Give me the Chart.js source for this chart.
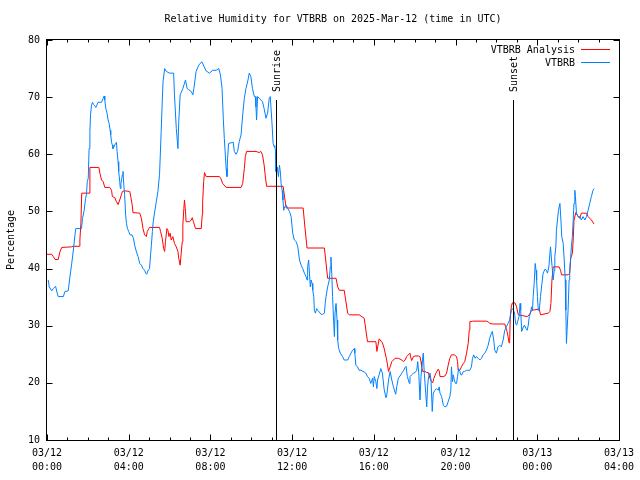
<!DOCTYPE html>
<html>
<head>
<meta charset="utf-8">
<script src="https://cdn.jsdelivr.net/npm/chart.js@4.4.1/dist/chart.umd.min.js"></script>
<style>
    html, body { margin: 0; padding: 0; background: #fff; }
    canvas { display: block; }
</style>
</head>
<body>
<canvas id="graficoUmidade" width="640" height="480"></canvas>
<script>
// Observações VTBRB (horas desde 03/12 00:00 UTC, umidade relativa %)
const obsHours = [
    0.06,0.11,0.23,0.31,0.42,0.50,0.55,0.80,0.88,1.04,
    1.12,1.20,1.28,1.37,1.41,1.69,1.74,1.82,1.89,1.93,
    1.97,2.02,2.06,2.10,2.13,2.18,2.23,2.28,2.34,2.39,
    2.44,2.50,2.67,2.75,2.80,2.83,2.88,2.94,2.99,3.04,
    3.09,3.12,3.16,3.20,3.23,3.28,3.35,3.40,3.43,3.48,
    3.51,3.56,3.59,3.62,3.66,3.69,3.72,3.76,3.80,3.85,
    3.89,3.94,4.00,4.07,4.16,4.23,4.29,4.38,4.46,4.54,
    4.62,4.70,4.78,4.83,4.88,4.94,5.02,5.07,5.11,5.16,
    5.20,5.27,5.35,5.43,5.51,5.59,5.64,5.68,5.76,5.84,
    6.00,6.20,6.24,6.33,6.41,6.45,6.52,6.65,6.78,6.86,
    6.94,7.06,7.14,7.19,7.30,7.43,7.58,7.79,7.95,8.11,
    8.28,8.41,8.49,8.57,8.63,8.68,8.73,8.77,8.81,8.84,
    8.89,9.12,9.17,9.25,9.33,9.41,9.50,9.58,9.66,9.74,
    9.84,9.90,9.98,10.06,10.15,10.20,10.23,10.26,10.31,10.39,
    10.55,10.63,10.72,10.80,10.88,10.93,11.01,11.07,11.12,11.15,
    11.19,11.21,11.27,11.33,11.38,11.43,11.46,11.51,11.55,11.59,
    11.63,11.71,11.79,11.87,11.95,12.03,12.11,12.20,12.28,12.36,
    12.44,12.52,12.60,12.68,12.73,12.76,12.81,12.85,12.89,12.93,
    12.98,13.01,13.06,13.09,13.14,13.20,13.25,13.33,13.41,13.50,
    13.58,13.62,13.66,13.74,13.82,13.87,13.90,13.94,13.98,14.03,
    14.07,14.10,14.15,14.20,14.23,14.28,14.36,14.47,14.55,14.72,
    14.80,14.88,14.96,15.04,15.07,15.12,15.20,15.28,15.37,15.53,
    15.61,15.69,15.77,15.85,15.94,15.98,16.02,16.10,16.15,16.18,
    16.26,16.34,16.42,16.50,16.59,16.63,16.72,16.80,16.88,16.96,
    17.07,17.12,17.20,17.28,17.37,17.45,17.53,17.58,17.64,17.69,
    17.74,17.77,17.85,17.94,18.02,18.10,18.15,18.20,18.26,18.31,
    18.37,18.42,18.47,18.54,18.59,18.63,18.68,18.75,18.80,18.86,
    18.91,18.99,19.07,19.15,19.20,19.24,19.32,19.40,19.48,19.56,
    19.64,19.72,19.77,19.80,19.85,19.89,19.94,20.00,20.05,20.10,
    20.15,20.21,20.26,20.31,20.38,20.45,20.54,20.70,20.78,20.83,
    20.89,20.96,21.02,21.11,21.19,21.27,21.35,21.43,21.51,21.60,
    21.67,21.76,21.80,21.87,21.92,22.00,22.08,22.16,22.24,22.33,
    22.41,22.49,22.57,22.65,22.73,22.81,22.89,22.94,22.99,23.04,
    23.11,23.16,23.19,23.24,23.32,23.37,23.45,23.51,23.56,23.61,
    23.67,23.72,23.77,23.80,23.85,23.90,23.94,23.97,24.01,24.05,
    24.10,24.16,24.23,24.29,24.38,24.45,24.50,24.57,24.62,24.65,
    24.70,24.73,24.78,24.83,24.86,24.91,24.94,24.99,25.04,25.11,
    25.16,25.20,25.27,25.32,25.37,25.40,25.43,25.46,25.51,25.56,
    25.59,25.64,25.67,25.72,25.76,25.80,25.84,25.87,25.92,26.00,
    26.08,26.16,26.24,26.33,26.41,26.49,26.57,26.65,26.73,26.78
];
const obsRH = [
    38,36.8,36.1,36.5,36.9,35.7,35.1,35.1,36,36.1,
    38.5,40.6,42.9,45.9,47,47,48.8,50.2,52.3,52.9,
    55.2,55.8,61,64,66.9,68.6,69.1,68.7,68.5,68.2,
    68.6,69.1,69.1,69.8,70.2,69.5,68,67.2,66,65.4,
    64.2,63.4,62.1,61.6,61,61.3,61.9,62.1,60.5,58.7,
    57,55.2,54,54.9,55.8,56.4,57,54.6,52.9,49.4,
    47.9,47,46.5,45.9,45.9,45.3,44.1,42.9,42.1,40.9,
    40.6,40,39.7,39.2,39,39.6,40,42.4,44.1,46.5,
    48.2,49.9,51.7,53.5,56.5,64,69,72.7,75,74.5,
    74.2,74.2,70.4,64.5,61,65.7,70.4,71.5,73,71.5,
    71.3,71,70.4,71.5,74.5,75.6,76.2,74.6,74.2,74.7,
    74.7,75,73.9,71.5,66.3,62.8,59.9,57.5,56.1,59.3,
    61.9,62.1,60.5,60,60.5,62.2,63.4,66.9,69.8,71.5,
    73,74.2,73.6,71.5,70.1,70.1,68.3,66,70.1,69.8,
    69.2,68,66.3,67.2,69.8,70.1,65.7,61.9,61.3,61.5,
    60.5,57,57.8,56.1,58.1,56.7,54.9,53.7,52,50.2,
    50.8,51.1,50.5,50,49.1,46.2,45,44.7,43.8,41.5,
    40.6,40,39.2,38.6,38,40.3,41.5,39.2,36.8,38,
    37.4,36.2,35.1,32.7,32.2,33,32.7,32.4,32,32,
    32.2,33.9,35.1,36.8,38,40.3,42,39.2,35.1,31,
    28.1,32.2,33.9,31,27.5,26,25.2,24.6,24,24,
    24.6,25.2,25.7,26,25.2,23.1,22.8,22.2,22.2,21.9,
    21.7,21.1,20.8,19.9,20.8,19.3,21.1,20.2,19,20.5,
    21.4,22.5,21.7,19,17.4,17.7,20.5,22,20.5,19.3,
    18,19.3,20.8,21.2,21.7,22.1,22.7,22.9,21.1,20.5,
    19.9,21.1,21.4,21.7,21.8,22.2,23.7,21.7,17,21.1,
    23.5,25.2,21.7,18.2,15.8,19.3,21.1,21.7,20.5,15,
    18.2,18.7,19,18.7,19.3,18.2,17.6,16.1,15.8,15.9,
    16.7,17.6,18.7,22.8,20.2,21.4,20.5,19.9,19.9,21.1,
    22.5,22,21.4,21.4,22,22,22.2,22.2,22.8,24.3,
    24.9,24.3,24.6,24.3,24,24.3,24.9,25.2,25.7,26.6,
    27.8,28.7,29,27.5,25.7,25.2,26.3,26.6,26.3,27.5,
    29.2,29.8,30.4,31,32.7,33,32.2,30.4,30.1,30.7,
    31.6,33.9,32.7,29,29.8,30.1,29.5,29.2,30.1,31.6,
    32.2,33.3,32.7,35.1,37.4,40.9,39.7,38,35.1,32.7,
    32.7,35.1,37.4,39.2,39.9,39.7,39.2,40.3,42.7,43.8,
    41.5,40.3,38,39.7,42.1,43.8,46.7,48.5,50.2,51.4,
    48.5,45.6,44.4,41.5,38,32.7,26.9,29.2,32.7,38,
    39.7,42.1,43.8,45.6,48.5,51.4,53.7,52.6,49.7,49.1,
    49.1,48.5,49.1,48.5,49.1,50.2,51.4,52.6,53.7,54
];

// Análise VTBRB
const anaHours = [
    0,0.23,0.31,0.39,0.55,0.63,0.72,1.20,1.28,1.58,
    1.61,1.66,1.70,2.06,2.10,2.54,2.59,2.67,2.75,2.83,
    3.07,3.16,3.20,3.32,3.40,3.48,3.56,3.64,3.69,3.80,
    4.05,4.10,4.16,4.21,4.54,4.62,4.70,4.78,4.86,4.91,
    4.99,5.02,5.51,5.56,5.64,5.71,5.76,5.80,5.87,5.92,
    5.97,6.03,6.08,6.16,6.24,6.33,6.41,6.45,6.52,6.57,
    6.62,6.65,6.70,6.73,6.78,6.81,6.98,7.06,7.11,7.17,
    7.27,7.55,7.60,7.62,7.67,7.71,7.79,8.44,8.52,8.60,
    8.77,9.50,9.58,9.66,9.71,9.77,10.23,10.39,10.47,10.55,
    10.63,10.68,10.75,11.56,11.63,11.71,12.54,12.63,12.73,13.58,
    13.74,14.15,14.23,14.31,14.55,14.72,14.80,15.28,15.53,15.69,
    16.10,16.15,16.26,16.42,16.50,16.63,16.72,16.80,16.88,17.04,
    17.20,17.37,17.45,17.53,17.61,17.69,17.77,17.80,17.85,17.94,
    18.02,18.18,18.26,18.31,18.34,18.39,18.50,18.59,18.67,18.75,
    18.83,18.88,18.94,19.04,19.15,19.20,19.24,19.40,19.48,19.56,
    19.64,19.72,19.80,19.94,20.05,20.10,20.13,20.21,20.29,20.38,
    20.45,20.54,20.62,20.67,20.70,20.83,21.51,21.60,21.67,21.84,
    22.41,22.45,22.52,22.57,22.62,22.65,22.68,22.73,22.78,22.91,
    22.99,23.07,23.51,23.61,23.72,24.10,24.16,24.54,24.62,24.67,
    24.72,24.78,25.07,25.14,25.19,25.51,25.59,25.64,25.72,25.76,
    25.80,25.89,26.00,26.08,26.16,26.41,26.49,26.65,26.78
];
const anaRH = [
    42.5,42.5,42.1,41.6,41.6,42.9,43.7,43.8,43.9,43.9,
    45,48,53.2,53.2,57.7,57.7,56.7,55.5,55.2,54.2,
    54.2,53.7,52.6,52.4,51.7,51.2,52,52.9,53.5,53.6,
    53.5,52.6,51.4,49.8,49.7,48.8,47,45.9,45.6,46.5,
    47,47.2,47.2,46.5,45.3,43.5,43,44.7,47,46.7,
    45.6,46.2,45,45.6,44.4,43.8,43,41.8,40.6,42.7,
    44.7,47.6,50.5,52,50,48.2,48.2,48.5,48.9,48.2,
    47,47,49.4,51.7,55.2,56.8,56.1,56.1,55.7,54.9,
    54.2,54.2,54.9,57.5,59.6,60.5,60.5,60.3,60.5,59.9,
    58.1,56.4,54.4,54.4,52.5,50.6,50.6,47.1,43.6,43.6,
    38.3,38.3,36.8,36.2,36.2,32.2,31.9,31.9,31.3,27.2,
    27.2,25.5,27.7,27,26.1,24,22,22.8,23.7,24.3,
    24.3,24,23.7,24,24.6,24.9,25.2,24.6,23.9,24.6,
    24.7,24.7,24.6,23.7,22.8,22,22,21.8,21.8,20.8,
    20.2,20,20.8,21.7,22.4,22.1,21.1,21.1,21.2,21.7,
    23.1,24.3,24.9,24.9,24.6,23.7,22.2,22.2,22.8,23.4,
    23.7,25.2,26.9,29.2,30.7,30.8,30.8,30.7,30.4,30.3,
    30.3,29.8,29,28.1,27,27.2,31.6,33.3,34,34,
    33.3,31.9,31.6,31.9,32.7,32.9,31.9,32.2,32.5,33.9,
    38,40.3,40.3,39.7,38.9,38.9,39.2,41.8,42.7,45,
    48.5,49.8,49.1,48.8,49.7,49.7,49.1,48.5,47.8
];

const seriesNames = ['VTBRB Analysis', 'VTBRB'];
const xTickDates = ['03/12', '03/12', '03/12', '03/12', '03/12', '03/12', '03/13', '03/13'];
const xTickTimes = ['00:00', '04:00', '08:00', '12:00', '16:00', '20:00', '00:00', '04:00'];
const sunLabels = ['Sunrise', 'Sunset'];
const sunHours = [11.19, 22.80];

const FONTE = '"DejaVu Sans Mono", "Liberation Mono", monospace';
const CORES = ['#ff0000', 'rgb(0,128,255)'];

Chart.defaults.font.family = FONTE;
Chart.defaults.font.size = 10;
Chart.defaults.color = '#000';

// Moldura, marcas, nascer/pôr do sol, título e legenda no estilo gnuplot
const moldura = {
    id: 'moldura',
    afterDatasetsDraw(chart) {
        const { ctx, chartArea: a, scales: { x, y } } = chart;
        const h = a.bottom - a.top;
        ctx.save();
        ctx.strokeStyle = '#000';
        ctx.fillStyle = '#000';
        ctx.lineWidth = 1;
        ctx.font = '10px ' + FONTE;

        sunHours.forEach((t, i) => {
            const px = Math.round(x.getPixelForValue(t)) + 0.5;
            ctx.beginPath();
            ctx.moveTo(px, a.bottom);
            ctx.lineTo(px, a.bottom - 0.85 * h);
            ctx.stroke();
            ctx.save();
            ctx.translate(px + 1, a.bottom - 0.87 * h);
            ctx.rotate(-Math.PI / 2);
            ctx.textAlign = 'left';
            ctx.textBaseline = 'middle';
            ctx.fillText(sunLabels[i], 0, 0);
            ctx.restore();
        });

        const L = Math.round(a.left) - 0.5, R = Math.round(a.right) + 0.5;
        const T = Math.round(a.top) - 0.5, B = Math.round(a.bottom) + 0.5;
        ctx.strokeRect(L, T, R - L, B - T);

        ctx.beginPath();
        for (let t = 0; t <= 28; t++) {
            const px = Math.round(x.getPixelForValue(t)) + 0.5;
            const len = t % 4 === 0 ? 6 : 3;
            ctx.moveTo(px, B); ctx.lineTo(px, B - len);
            ctx.moveTo(px, T); ctx.lineTo(px, T + len);
        }
        for (let v = 10; v <= 80; v += 10) {
            const py = Math.round(y.getPixelForValue(v)) + 0.5;
            ctx.moveTo(L, py); ctx.lineTo(L + 6, py);
            ctx.moveTo(R, py); ctx.lineTo(R - 6, py);
        }
        ctx.stroke();

        // título
        ctx.textAlign = 'center';
        ctx.textBaseline = 'middle';
        ctx.fillText('Relative Humidity for VTBRB on 2025-Mar-12 (time in UTC)', (a.left + a.right) / 2, 19);

        // eixo y
        ctx.save();
        ctx.translate(11, (a.top + a.bottom) / 2);
        ctx.rotate(-Math.PI / 2);
        ctx.fillText('Percentage', 0, 0);
        ctx.restore();

        // legenda
        ctx.textAlign = 'right';
        seriesNames.forEach((nome, i) => {
            const ly = 50 + i * 13;
            ctx.fillText(nome, 575, ly);
            ctx.strokeStyle = CORES[i];
            ctx.beginPath();
            ctx.moveTo(581, ly - 0.5);
            ctx.lineTo(610, ly - 0.5);
            ctx.stroke();
        });
        ctx.restore();
    }
};

new Chart(document.getElementById('graficoUmidade'), {
    type: 'line',
    data: {
        datasets: [{
            label: seriesNames[0],
            data: anaHours.map((t, i) => ({ x: t, y: anaRH[i] })),
            borderColor: CORES[0],
            borderWidth: 1,
            pointRadius: 0,
            tension: 0,
            order: 2
        }, {
            label: seriesNames[1],
            data: obsHours.map((t, i) => ({ x: t, y: obsRH[i] })),
            borderColor: CORES[1],
            borderWidth: 1,
            pointRadius: 0,
            tension: 0,
            order: 1
        }]
    },
    options: {
        responsive: false,
        animation: false,
        layout: { padding: { left: 0, right: 19, top: 40, bottom: 0 } },
        plugins: { legend: { display: false }, tooltip: { enabled: false } },
        scales: {
            x: {
                type: 'linear', min: 0, max: 28,
                afterFit: s => { s.height = 40; },
                grid: { display: false, drawTicks: false },
                border: { display: false },
                ticks: {
                    stepSize: 4, autoSkip: false, maxRotation: 0, minRotation: 0, padding: 6,
                    font: { size: 10, lineHeight: 1.4 },
                    callback: v => [xTickDates[v / 4], xTickTimes[v / 4]]
                }
            },
            y: {
                min: 10, max: 80,
                afterFit: s => { s.width = 47; },
                grid: { display: false, drawTicks: false },
                border: { display: false },
                ticks: { stepSize: 10, padding: 7 }
            }
        }
    },
    plugins: [moldura]
});
</script>
</body>
</html>
